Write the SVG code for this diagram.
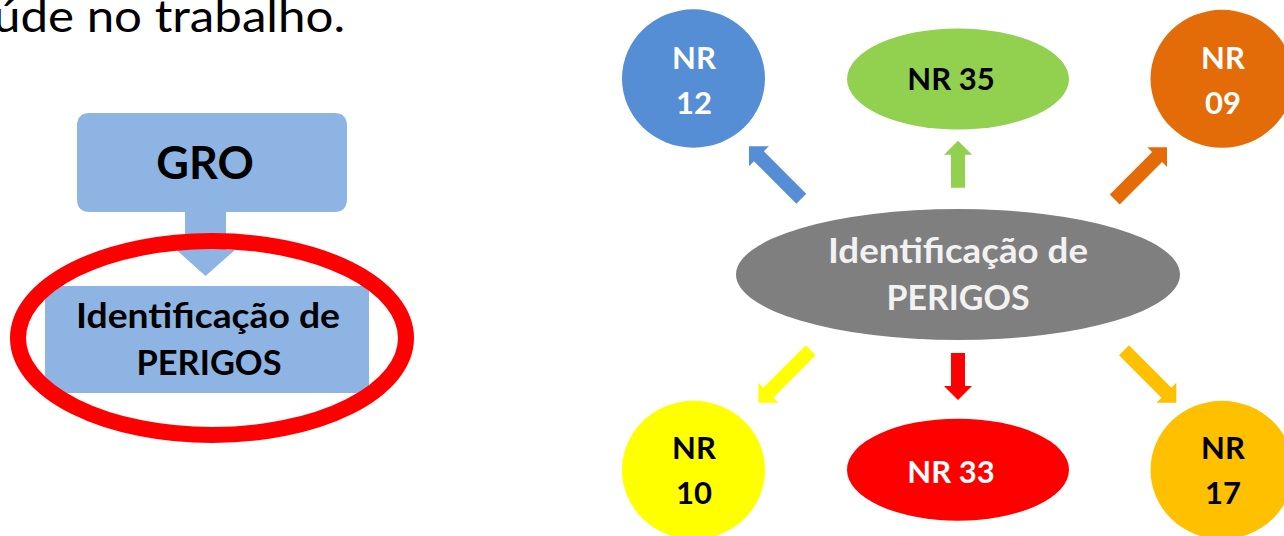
<svg xmlns="http://www.w3.org/2000/svg" width="1284" height="536" viewBox="0 0 1284 536">
<style>
text{font-family:Lato,"Open Sans","Liberation Sans",sans-serif;text-anchor:middle}
.b{font-weight:bold}
.lbl{font-size:31px;font-weight:bold}
.w{fill:#ffffff}
.k{fill:#000000}
</style>
<defs>
<path id="arrL" d="M0,-7 H60 V-14 L74,0 L60,14 V7 H0 Z"/>
<path id="arrS" d="M0,-7 H33 V-14 L47,0 L33,14 V7 H0 Z"/>
</defs>
<rect width="1284" height="536" fill="#ffffff"/>
<text x="-7" y="32" style="font-size:44px;text-anchor:start" fill="#000000" textLength="352" lengthAdjust="spacingAndGlyphs">úde no trabalho.</text>

<g id="gro">
<path d="M90,113 H334 Q347,113 347,126 V199 Q347,212 334,212 H226 V250 H235 L205.5,276 L176.5,250 H185 V212 H90 Q77,212 77,199 V126 Q77,113 90,113 Z" fill="#8EB4E3"/>
<text x="205" y="179" class="b k" style="font-size:45px">GRO</text>
</g>
<g id="ident-left">
<rect x="45" y="286" width="324" height="107" fill="#8EB4E3"/>
<text x="208" y="328" class="b k" style="font-size:35px" textLength="264" lengthAdjust="spacingAndGlyphs">Identificação de</text>
<text x="209" y="375" class="b k" style="font-size:35px" textLength="145" lengthAdjust="spacingAndGlyphs">PERIGOS</text>
</g>
<g id="highlight">
<ellipse cx="212" cy="338" rx="194" ry="97" fill="none" stroke="#FF0000" stroke-width="16"/>
</g>

<g id="connectors">
<use href="#arrL" transform="translate(801.3,198.7) rotate(-135)" fill="#558ED5"/>
<use href="#arrS" transform="translate(958,187.7) rotate(-90)" fill="#92D050"/>
<use href="#arrL" transform="translate(1114.7,199.5) rotate(-45)" fill="#E36C09"/>
<use href="#arrL" transform="translate(810.7,350.3) rotate(135)" fill="#FFFF00"/>
<use href="#arrS" transform="translate(958,353) rotate(90)" fill="#FF0000"/>
<use href="#arrL" transform="translate(1124,350.3) rotate(45)" fill="#FFC000"/>
</g>

<g id="center">
<ellipse cx="958" cy="274.5" rx="222" ry="65.5" fill="#7F7F7F"/>
<text x="958" y="263" class="b" fill="#F2F2F2" style="font-size:34px" textLength="260" lengthAdjust="spacingAndGlyphs">Identificação de</text>
<text x="958" y="310" class="b" fill="#F2F2F2" style="font-size:34px" textLength="143" lengthAdjust="spacingAndGlyphs">PERIGOS</text>
</g>

<g id="nr12">
<ellipse cx="693.5" cy="78.5" rx="71.5" ry="69.2" fill="#558ED5"/>
<text x="694" y="69" class="lbl w">NR</text>
<text x="694" y="114" class="lbl w">12</text>
</g>
<g id="nr35">
<ellipse cx="958" cy="79" rx="111" ry="50.5" fill="#92D050"/>
<text x="951" y="90" class="lbl k">NR 35</text>
</g>
<g id="nr09">
<ellipse cx="1222" cy="78.8" rx="71.5" ry="69" fill="#E36C09"/>
<text x="1223" y="69" class="lbl w">NR</text>
<text x="1223" y="114" class="lbl w">09</text>
</g>
<g id="nr10">
<ellipse cx="693.5" cy="470" rx="71.5" ry="69.2" fill="#FFFF00"/>
<text x="694" y="459" class="lbl k">NR</text>
<text x="694" y="504" class="lbl k">10</text>
</g>
<g id="nr33">
<ellipse cx="958" cy="469.7" rx="111" ry="51" fill="#FF0000"/>
<text x="951" y="483" class="lbl w">NR 33</text>
</g>
<g id="nr17">
<ellipse cx="1222" cy="470" rx="71.5" ry="69.2" fill="#FFC000"/>
<text x="1223" y="459" class="lbl k">NR</text>
<text x="1223" y="504" class="lbl k">17</text>
</g>
</svg>
